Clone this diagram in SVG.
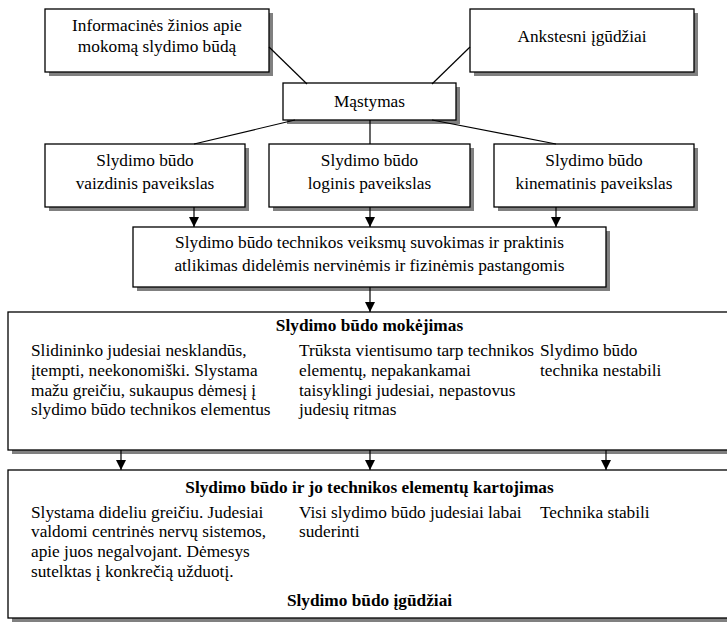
<svg xmlns="http://www.w3.org/2000/svg" width="727" height="622" viewBox="0 0 727 622">
  <defs>
    <marker id="arrow" viewBox="0 0 10 10" refX="10" refY="5" markerWidth="10" markerHeight="10" markerUnits="userSpaceOnUse" orient="auto">
      <path d="M0,0 L10,5 L0,10 Z" fill="#000"/>
    </marker>
  </defs>
  <style>
    .box { fill: #fff; stroke: #000; stroke-width: 1.3; }
    .shadow { fill: #808080; }
    .t { font-family: "Liberation Serif", "Times New Roman", serif; font-size: 17.3px; fill: #000; }
    .c { text-anchor: middle; }
    .b { font-weight: bold; }
    .link { stroke: #000; stroke-width: 1.2; fill: none; }
    .arr { stroke: #000; stroke-width: 1.2; fill: none; marker-end: url(#arrow); }
  </style>
  <rect width="727" height="622" fill="#fff"/>

  <g id="info">
    <rect class="shadow" x="49" y="13" width="224" height="63"/>
    <rect class="box" x="45" y="9" width="224" height="63"/>
    <text class="t c" x="157" y="31">Informacinės žinios apie</text>
    <text class="t c" x="157" y="52">mokomą slydimo būdą</text>
  </g>

  <g id="ankstesni">
    <rect class="shadow" x="474" y="13" width="224" height="63"/>
    <rect class="box" x="470" y="9" width="224" height="63"/>
    <text class="t c" x="582" y="42">Ankstesni įgūdžiai</text>
  </g>

  <g id="mastymas">
    <rect class="shadow" x="287" y="87" width="173" height="37"/>
    <rect class="box" x="283" y="83" width="173" height="37"/>
    <text class="t c" x="369.5" y="107">Mąstymas</text>
  </g>

  <g id="vaizdinis">
    <rect class="shadow" x="49" y="148" width="200" height="63"/>
    <rect class="box" x="45" y="144" width="200" height="63"/>
    <text class="t c" x="145" y="166">Slydimo būdo</text>
    <text class="t c" x="145" y="189">vaizdinis paveikslas</text>
  </g>

  <g id="loginis">
    <rect class="shadow" x="273" y="148" width="201" height="63"/>
    <rect class="box" x="269" y="144" width="201" height="63"/>
    <text class="t c" x="369.5" y="166">Slydimo būdo</text>
    <text class="t c" x="369.5" y="189">loginis paveikslas</text>
  </g>

  <g id="kinematinis">
    <rect class="shadow" x="498" y="148" width="200" height="63"/>
    <rect class="box" x="494" y="144" width="200" height="63"/>
    <text class="t c" x="594" y="166">Slydimo būdo</text>
    <text class="t c" x="594" y="189">kinematinis paveikslas</text>
  </g>

  <g id="suvokimas">
    <rect class="shadow" x="137" y="231" width="473" height="60"/>
    <rect class="box" x="133" y="227" width="473" height="60"/>
    <text class="t c" x="369.5" y="248">Slydimo būdo technikos veiksmų suvokimas ir praktinis</text>
    <text class="t c" x="369.5" y="271">atlikimas didelėmis nervinėmis ir fizinėmis pastangomis</text>
  </g>

  <g id="mokejimas">
    <rect class="shadow" x="12" y="316" width="730" height="138"/>
    <rect class="box" x="8" y="312" width="730" height="138"/>
    <text class="t c b" x="369.5" y="331">Slydimo būdo mokėjimas</text>
    <text class="t" x="31" y="356">Slidininko judesiai nesklandūs,</text>
    <text class="t" x="31" y="376">įtempti, neekonomiški. Slystama</text>
    <text class="t" x="31" y="396">mažu greičiu, sukaupus dėmesį į</text>
    <text class="t" x="31" y="415">slydimo būdo technikos elementus</text>
    <text class="t" x="299" y="356">Trūksta vientisumo tarp technikos</text>
    <text class="t" x="299" y="376">elementų, nepakankamai</text>
    <text class="t" x="299" y="396">taisyklingi judesiai, nepastovus</text>
    <text class="t" x="299" y="415">judesių ritmas</text>
    <text class="t" x="540" y="356">Slydimo būdo</text>
    <text class="t" x="540" y="376">technika nestabili</text>
  </g>

  <g id="kartojimas">
    <rect class="shadow" x="12" y="474" width="730" height="148"/>
    <rect class="box" x="8" y="470" width="730" height="148"/>
    <text class="t c b" x="369.5" y="493">Slydimo būdo ir jo technikos elementų kartojimas</text>
    <text class="t" x="31" y="518">Slystama dideliu greičiu. Judesiai</text>
    <text class="t" x="31" y="537">valdomi centrinės nervų sistemos,</text>
    <text class="t" x="31" y="557">apie juos negalvojant. Dėmesys</text>
    <text class="t" x="31" y="577">sutelktas į konkrečią užduotį.</text>
    <text class="t" x="299" y="518">Visi slydimo būdo judesiai labai</text>
    <text class="t" x="299" y="537">suderinti</text>
    <text class="t" x="540" y="518">Technika stabili</text>
    <text class="t c b" x="369.5" y="606">Slydimo būdo įgūdžiai</text>
  </g>

  <g id="connectors">
    <line class="link" x1="269" y1="47" x2="307" y2="84"/>
    <line class="link" x1="470" y1="47" x2="432" y2="84"/>
    <line class="link" x1="295" y1="120" x2="194" y2="144"/>
    <line class="link" x1="370" y1="120" x2="370" y2="144"/>
    <line class="link" x1="432" y1="120" x2="556" y2="144"/>
    <line class="arr" x1="194" y1="207" x2="194" y2="227"/>
    <line class="arr" x1="370" y1="207" x2="370" y2="227"/>
    <line class="arr" x1="556" y1="207" x2="556" y2="227"/>
    <line class="arr" x1="370" y1="287" x2="370" y2="312"/>
    <line class="arr" x1="121" y1="450" x2="121" y2="470"/>
    <line class="arr" x1="370" y1="450" x2="370" y2="470"/>
    <line class="arr" x1="606" y1="450" x2="606" y2="470"/>
  </g>
</svg>
